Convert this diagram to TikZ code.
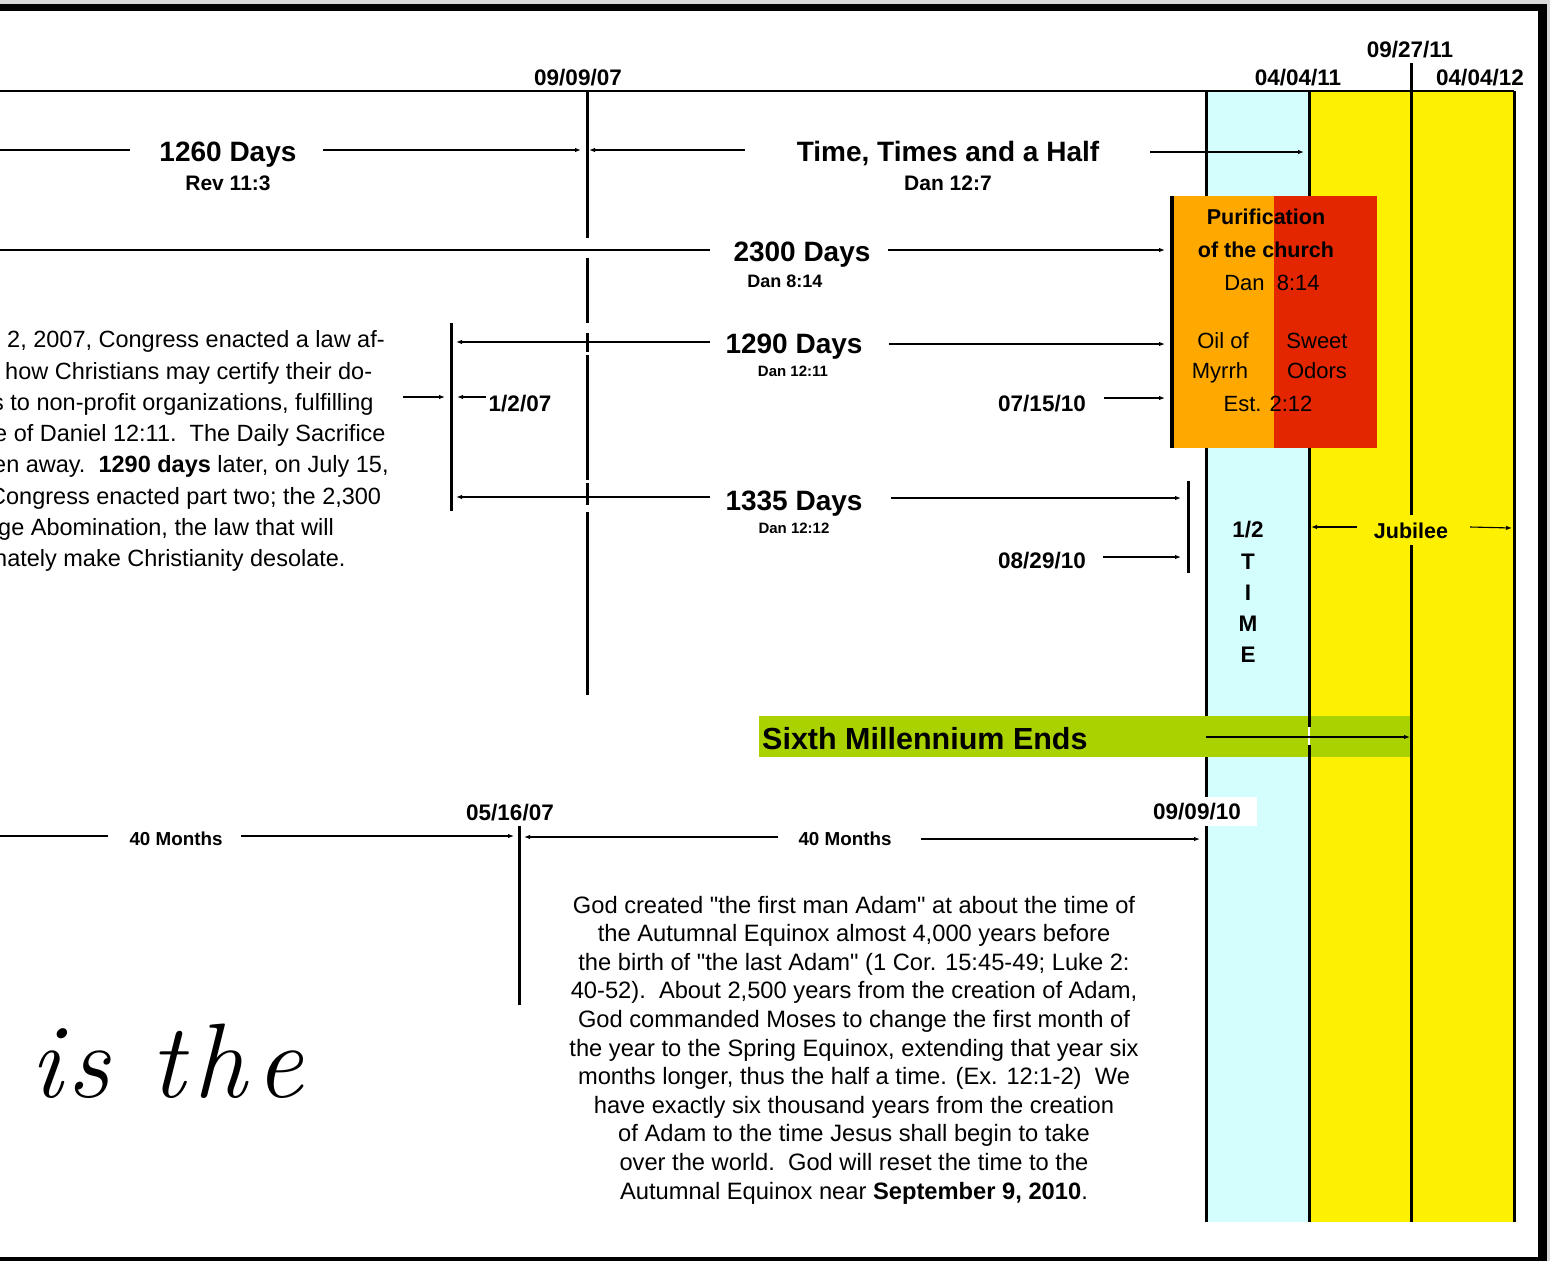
\documentclass[tikz,border=0pt]{standalone}
\usepackage{fontspec}
\setmainfont{Liberation Sans}[Ligatures=TeXOff]
\newfontfamily\handfont{Latin Modern Roman}
\usetikzlibrary{arrows.meta}
\definecolor{colcyan}{HTML}{D4FEFE}
\definecolor{colyellow}{HTML}{FDF000}
\definecolor{colorange}{HTML}{FFA800}
\definecolor{colred}{HTML}{E42600}
\definecolor{colgreen}{HTML}{AAD200}
\definecolor{edgegrey}{HTML}{D8D8D8}
\begin{document}
\begin{tikzpicture}[x=1pt,y=-1pt,
  date/.style={font=\bfseries\fontsize{22.5}{26}\selectfont,inner sep=0pt,anchor=base},
  big/.style={font=\bfseries\fontsize{28}{32}\selectfont,inner sep=0pt,anchor=base},
  refa/.style={font=\bfseries\fontsize{21}{24}\selectfont,inner sep=0pt,anchor=base},
  refb/.style={font=\bfseries\fontsize{18}{21}\selectfont,inner sep=0pt,anchor=base},
  refc/.style={font=\bfseries\fontsize{15}{18}\selectfont,inner sep=0pt,anchor=base},
  boxb/.style={font=\bfseries\fontsize{21.5}{25}\selectfont,inner sep=0pt,anchor=base},
  boxr/.style={font=\fontsize{22}{25}\selectfont,inner sep=0pt,anchor=base},
  months/.style={font=\bfseries\fontsize{18.8}{22}\selectfont,inner sep=0pt,anchor=base},
  para/.style={font=\fontsize{23.5}{28}\selectfont,inner sep=0pt},
  parb/.style={font=\fontsize{23.7}{28}\selectfont,inner sep=0pt,anchor=base},
  arr/.style={line width=1.1pt,-{Latex[length=6pt,width=4.5pt]}},
  thinln/.style={line width=1.1pt},
  vbar/.style={line width=3pt},
  colline/.style={line width=3pt}]
\useasboundingbox (0,0) rectangle (1550,1261);
\clip (0,0) rectangle (1550,1261);
% page and frame
\fill[white] (0,0) rectangle (1550,1261);
\fill[edgegrey] (0,0) rectangle (1550,4);
\fill[black] (0,4) rectangle (1547,11);
\fill[black] (1538,4) rectangle (1547,1261);
\fill[black] (0,1257) rectangle (1547,1261);
\fill[edgegrey] (1547,0) rectangle (1550,1261);
% columns
\fill[colcyan] (1206,91) rectangle (1309,1222);
\fill[colyellow] (1309,91) rectangle (1514,1222);
\draw[colline] (1206,91) -- (1206,1222);
\draw[colline] (1309,91) -- (1309,1222);
% purification box
\fill[colorange] (1170,196) rectangle (1274,448);
\fill[colred] (1274,196) rectangle (1377,448);
\draw[line width=4pt] (1171.5,196) -- (1171.5,448);
% green bar
\fill[colgreen] (759,716) rectangle (1411,757);
\draw[colline] (1309,716) -- (1309,727) (1309,745) -- (1309,757);
\draw[white,line width=2pt] (1309,727) -- (1309,745);
\draw[colline] (1411,63) -- (1411,1222);
\draw[colline] (1514,91) -- (1514,1222);
% top line
\draw[line width=2.5pt] (0,91) -- (1514,91);
% vertical at 09/09/07
\draw[vbar] (587,91) -- (587,238) (587,258) -- (587,323) (587,333) -- (587,352)
  (587,355) -- (587,480) (587,483) -- (587,505) (587,512) -- (587,695);
% other verticals
\draw[vbar] (451,323) -- (451,511);
\draw[vbar] (1188,481) -- (1188,573);
\draw[vbar] (519,826) -- (519,1005);

% date labels
\node[date] (d1) at (578,85) {09/09/07};
\node[date] (d2) at (1298,85) {04/04/11};
\node[date] (d3) at (1410,57) {09/27/11};
\node[date] (d4) at (1480,85) {04/04/12};

% row 1
\node[big] (n1260) at (228,161) {1260 Days};
\node[refa] (rev) at (228,190.5) {Rev 11:3};
\node[big] (ntime) at (948,161) {Time, Times and a Half};
\node[refa] (dan127) at (948,190.5) {Dan 12:7};
\coordinate (r1a) at (0,150); \coordinate (r1b) at (130,150);
\coordinate (r1c) at (323,150); \coordinate (r1d) at (581,150);
\coordinate (r1e) at (745,150); \coordinate (r1f) at (589,150);
\coordinate (r1g) at (1150,152); \coordinate (r1h) at (1304,152);
\draw[thinln] (r1a) -- (r1b);
\draw[arr] (r1c) -- (r1d);
\draw[arr] (r1e) -- (r1f);
\draw[arr] (r1g) -- (r1h);

% row 2
\node[big] (n2300) at (802,261) {2300 Days};
\node[refb] (dan814) at (785,287.5) {Dan 8:14};
\coordinate (r2a) at (0,250); \coordinate (r2b) at (710,250);
\coordinate (r2c) at (888,250); \coordinate (r2d) at (1165,250);
\draw[thinln] (r2a) -- (r2b);
\draw[arr] (r2c) -- (r2d);

% row 3
\node[big] (n1290) at (794,353) {1290 Days};
\node[refc] (dan1211) at (793,376.4) {Dan 12:11};
\node[date] (d0715) at (1042,411) {07/15/10};
\node[date] (d0102) at (520,411) {1/2/07};
\coordinate (r3a) at (710,342); \coordinate (r3b) at (456,342);
\coordinate (r3c) at (889,344); \coordinate (r3d) at (1165,344);
\coordinate (r3e) at (1104,398); \coordinate (r3f) at (1165,398);
\coordinate (r3g) at (486,397); \coordinate (r3h) at (457,397);
\coordinate (r3i) at (403,397); \coordinate (r3j) at (445,397);
\draw[arr] (r3a) -- (r3b);
\draw[arr] (r3c) -- (r3d);
\draw[arr] (r3e) -- (r3f);
\draw[arr] (r3g) -- (r3h);
\draw[arr] (r3i) -- (r3j);

% row 4
\node[big] (n1335) at (794,510) {1335 Days};
\node[refc] (dan1212) at (794,533.4) {Dan 12:12};
\node[date] (d0829) at (1042,568) {08/29/10};
\coordinate (r4a) at (710,497); \coordinate (r4b) at (456,497);
\coordinate (r4c) at (891,498); \coordinate (r4d) at (1181,498);
\coordinate (r4e) at (1103,557); \coordinate (r4f) at (1181,557);
\draw[arr] (r4a) -- (r4b);
\draw[arr] (r4c) -- (r4d);
\draw[arr] (r4e) -- (r4f);

% box texts
\node[boxb] (pur) at (1266,224.7) {Purification};
\node[boxb] (church) at (1266,257.7) {of the church};
\node[boxr] (boxdan) at (1272,290) {Dan\ \ 8:14};
\node[boxr] (oil) at (1223,348) {Oil of};
\node[boxr] (myrrh) at (1220,378) {Myrrh};
\node[boxr] (sweet) at (1317,348) {Sweet};
\node[boxr] (odors) at (1317,378) {Odors};
\node[boxr] (est) at (1268,411) {Est. 2:12};

% half time
\node[date] (h1) at (1248,537) {1/2};
\node[date] (h2) at (1248,569) {T};
\node[date] (h3) at (1248,600) {I};
\node[date] (h4) at (1248,631) {M};
\node[date] (h5) at (1248,662) {E};

% jubilee
\node[boxb,fill=colyellow,inner xsep=3pt,inner ysep=7pt] (jub) at (1411,538) {Jubilee};
\coordinate (j1) at (1357,527); \coordinate (j2) at (1311,527);
\coordinate (j3) at (1470,527); \coordinate (j4) at (1512,528);
\draw[arr] (j1) -- (j2);
\draw[arr] (j3) -- (j4);

% sixth millennium
\node[font=\bfseries\fontsize{30.5}{34}\selectfont,inner sep=0pt,anchor=base west] (sixth) at (762,749) {Sixth Millennium Ends};
\coordinate (g1) at (1206,737); \coordinate (g2) at (1410,737);
\draw[arr] (g1) -- (g2);

% bottom row
\node[months] (m1) at (176,845) {40 Months};
\node[months] (m2) at (845,845) {40 Months};
\node[date] (d0516) at (510,820) {05/16/07};
\fill[white] (1151,797) rectangle (1257,826);
\node[date] (d0909) at (1197,819) {09/09/10};
\coordinate (b1) at (0,836); \coordinate (b2) at (108,836);
\coordinate (b3) at (241,836); \coordinate (b4) at (514,836);
\coordinate (b5) at (778,837); \coordinate (b6) at (524,837);
\coordinate (b7) at (921,839); \coordinate (b8) at (1200,839);
\draw[thinln] (b1) -- (b2);
\draw[arr] (b3) -- (b4);
\draw[arr] (b5) -- (b6);
\draw[arr] (b7) -- (b8);

% left paragraph (cut at the left edge, as in the reference)
\node[para,anchor=base west] (l1) at (7,347) {2, 2007, Congress enacted a law af-};
\node[para,anchor=base west] (l2) at (5,379) {how Christians may certify their do-};
\node[para,anchor=base west] (l3) at (-8,410) {s to non-profit organizations, fulfilling};
\node[para,anchor=base west] (l4) at (-6,441) {e of Daniel 12:11.\ \ The Daily Sacrifice};
\node[para,anchor=base west] (l5) at (-7,472) {en away.\ \ \textbf{1290 days} later, on July 15,};
\node[para,anchor=base west] (l6) at (-11,504) {Congress enacted part two; the 2,300};
\node[para,anchor=base west] (l7) at (-2,535) {ge Abomination, the law that will};
\node[para,anchor=base west] (l8) at (-6,566) {nately make Christianity desolate.};

% bottom paragraph
\node[parb] (p1) at (854,913) {God created "the first man Adam" at about the time of};
\node[parb] (p2) at (854,941.6) {the Autumnal Equinox almost 4,000 years before};
\node[parb] (p3) at (854,970.2) {the birth of "the last Adam" (1 Cor. 15:45-49; Luke 2:};
\node[parb] (p4) at (854,998.8) {40-52).\ \ About 2,500 years from the creation of Adam,};
\node[parb] (p5) at (854,1027.4) {God commanded Moses to change the first month of};
\node[parb] (p6) at (854,1056) {the year to the Spring Equinox, extending that year six};
\node[parb] (p7) at (854,1084.6) {months longer, thus the half a time. (Ex. 12:1-2)\ \ We};
\node[parb] (p8) at (854,1113.2) {have exactly six thousand years from the creation};
\node[parb] (p9) at (854,1141.8) {of Adam to the time Jesus shall begin to take};
\node[parb] (p10) at (854,1170.4) {over the world.\ \ God will reset the time to the};
\node[parb] (p11) at (854,1199) {Autumnal Equinox near \textbf{September 9, 2010}.};

% handwriting
\node[font=\handfont\itshape\fontsize{106}{110}\selectfont,inner sep=0pt,anchor=base west] (hand) at (30,1097) {i\kern6pt s\hspace{40pt}t\kern9pt h\kern9pt e};
\end{tikzpicture}
\end{document}
